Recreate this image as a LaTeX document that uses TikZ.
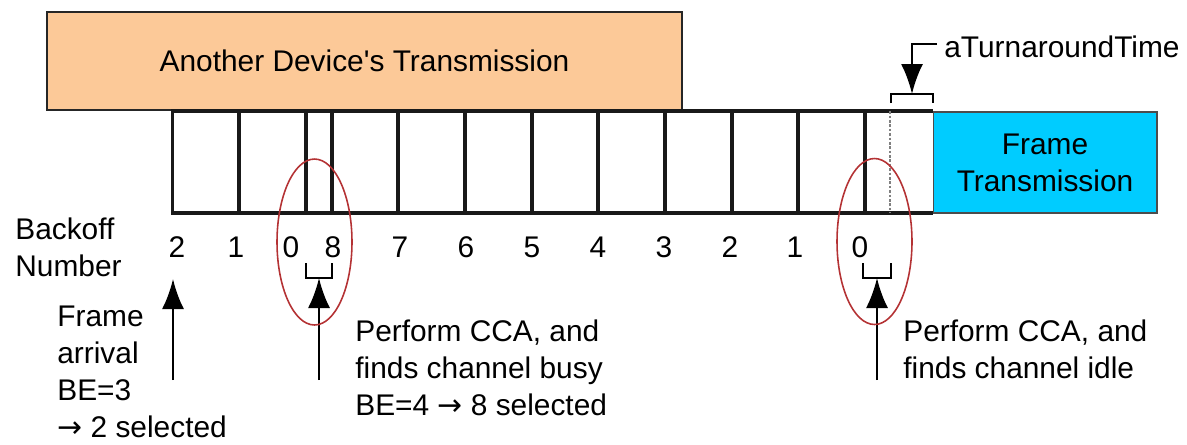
\documentclass[tikz,border=0pt]{standalone}
\usepackage{fontspec}
\setmainfont{Liberation Sans}
\newfontfamily\arrowfont{DejaVu Sans}
\usepackage{xcolor}
\usetikzlibrary{arrows.meta,positioning}

\definecolor{busyorange}{RGB}{252,201,152}
\definecolor{framecyan}{RGB}{0,204,255}
\definecolor{ccared}{RGB}{180,50,52}
\newcommand{\selarrow}{{\arrowfont\char"2192}}

\begin{document}
\begin{tikzpicture}[x=0.02cm,y=-0.02cm,>={Latex[length=6mm,width=4.4mm]},
  font=\fontsize{17}{21}\selectfont, node distance = 1cm]
\tikzstyle{busy} = [draw = black!85, fill = busyorange, line width = 1.5pt, minimum width = 12.7cm, minimum height = 1.96cm]
\tikzstyle{tx} = [draw = black!70, fill = framecyan, line width = 0.6pt, minimum width = 4.48cm, minimum height = 2.02cm, align = center]
\tikzstyle{slot} = [line width = 2pt, black!90]
\tikzstyle{brk} = [line width = 1.4pt]
\tikzstyle{arr} = [->, line width = 1.3pt]
\tikzstyle{cca} = [ccared, line width = 0.9pt]
\tikzstyle{txt} = [align = left, inner sep = 0pt, anchor = west]
\useasboundingbox (0,0) rectangle (1187,444);

% busy medium and backoff slots
\node[busy]    (other) at (364.5,61)   {Another Device\textquotesingle s Transmission};
\node[minimum width = 15.2cm, minimum height = 2.02cm] (row) at (553,162) {};
\draw[slot] (row.north east) -- (row.north west) -- (row.south west) -- (row.south east);
\foreach \x in {239,306,332,398,465,532,598,665,732,798,865}
  \draw[slot] (\x,0 |- row.north) -- (\x,0 |- row.south);
\draw[gray, densely dotted, line width = 1.5pt] (890,0 |- row.north) -- (890,0 |- row.south);
\node[tx]      (frame) at (1045,162.5) {Frame\\Transmission};

% backoff counter
\node[txt]     (bn) at (15,247) {Backoff\\Number};
\foreach \n/\x in {2/177,1/236,0/291,8/333,7/400,6/466,5/532,4/598,3/664,2/730,1/795,0/860}
  \node (n\x) at (\x,247) {\n};

% CCA brackets
\draw[brk] (306,263) -- (306,278) -- (332,278) -- (332,263);
\draw[brk] (863,263) -- (863,278) -- (891,278) -- (891,263);
\draw[brk] (891,103) -- (891,94) -- (933,94) -- (933,103);
\coordinate (b1) at (319,278);
\coordinate (b2) at (877,278);
\coordinate (b3) at (912,94);

% arrows
\coordinate (s0) at (173,380);
\coordinate (s1) at (319,380);
\coordinate (s2) at (877,380);
\coordinate (s3) at (937,44);
\draw[arr] (s0) -- (173,279);
\draw[arr] (s1) -- (b1);
\draw[arr] (s2) -- (b2);
\draw[arr] (s3) -| (b3);
\node[txt]     (ta) at (944,47) {aTurnaroundTime};

% CCA windows
\draw[cca] (314.5,242) ellipse [x radius = 0.75cm, y radius = 1.66cm];
\draw[cca] (874.5,241.5) ellipse [x radius = 0.75cm, y radius = 1.66cm];

% annotations
\node[txt]     (t0) at (57,372)  {Frame\\arrival\\BE=3\\\selarrow\ 2 selected};
\node[txt]     (t1) at (355,368) {Perform CCA, and\\finds channel busy\\BE=4 \selarrow\ 8 selected};
\node[txt]     (t2) at (903,349) {Perform CCA, and\\finds channel idle};
\end{tikzpicture}
\end{document}
